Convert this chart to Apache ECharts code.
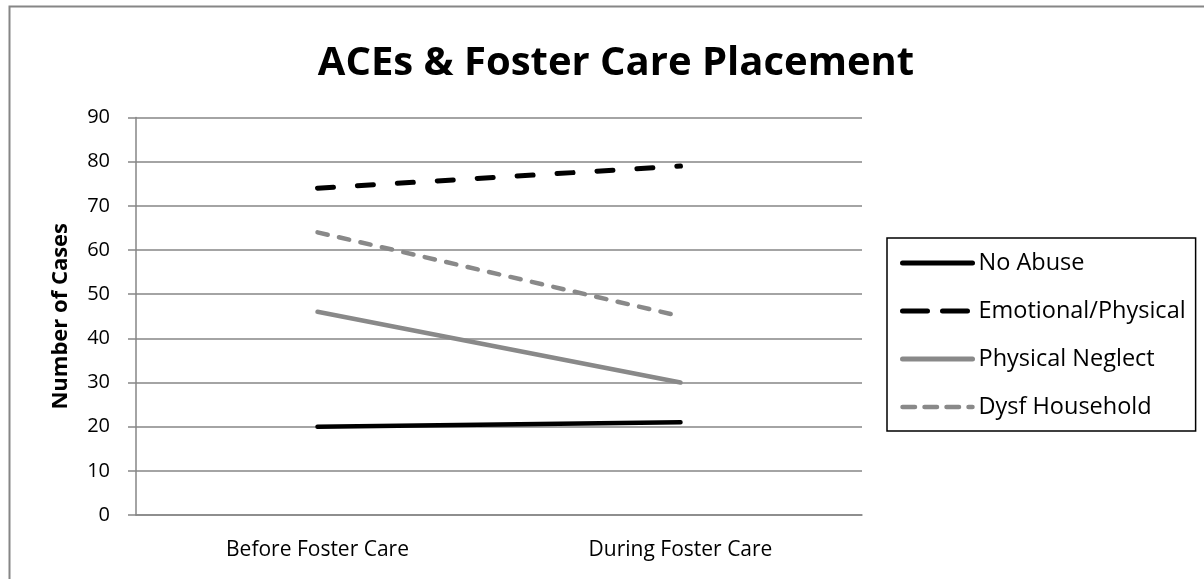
<!DOCTYPE html>
<html><head><meta charset="utf-8">
<script src="https://cdn.jsdelivr.net/npm/echarts@6/dist/echarts.min.js"></script>
<style>html,body{margin:0;padding:0;background:#fff}#c{width:1204px;height:579px}</style>
</head><body><div id="c"></div>
<script>
const titleText = 'ACEs & Foster Care Placement';
const categories = ['Before Foster Care', 'During Foster Care'];
const seriesNames = ['No Abuse', 'Emotional/Physical', 'Physical Neglect', 'Dysf Household'];
const noAbuse = [20, 21];
const emotionalPhysical = [74, 79];
const physicalNeglect = [46, 30];
const dysfHousehold = [64, 45];
const yTicks = [0, 10, 20, 30, 40, 50, 60, 70, 80, 90];

const FONT = 'Open Sans';
const GRAY = '#868686';
const chart = echarts.init(document.getElementById('c'), null, {renderer: 'canvas'});
chart.setOption({
  animation: false,
  backgroundColor: '#fff',
  title: {
    text: titleText, left: 611, top: 39, textAlign: 'center',
    textStyle: {fontFamily: FONT, fontWeight: 'bold', fontSize: 40, color: '#000'}
  },
  graphic: [{
    type: 'rect', shape: {x: 9.5, y: 6.5, width: 1220, height: 620},
    style: {fill: 'none', stroke: GRAY, lineWidth: 2}, silent: true, z: -1
  }],
  legend: {
    orient: 'vertical', left: 887, top: 238,
    borderColor: '#000', borderWidth: 1.5,
    padding: [13, 10, 12, 13], itemGap: 24,
    itemWidth: 70, itemHeight: 14,
    itemStyle: {opacity: 0},
    lineStyle: {width: 5, cap: 'round'},
    textStyle: {fontFamily: FONT, fontSize: 23.5, color: '#000', lineHeight: 24, padding: [0, 0, 0, 1]},
    data: [
      {name: seriesNames[0], lineStyle: {width: 5, cap: 'round', type: 'solid'}},
      {name: seriesNames[1], lineStyle: {width: 5, cap: 'round', type: [25, 15]}},
      {name: seriesNames[2], lineStyle: {width: 5, cap: 'round', type: 'solid'}},
      {name: seriesNames[3], lineStyle: {width: 4.5, cap: 'round', type: [12.5, 9.5]}}
    ]
  },
  grid: {left: 136, right: 342, top: 117.5, bottom: 64},
  xAxis: {
    type: 'category', data: categories, boundaryGap: true,
    axisLine: {lineStyle: {color: GRAY, width: 1.5}},
    axisTick: {length: 8, lineStyle: {color: GRAY, width: 1.5}},
    axisLabel: {fontFamily: FONT, fontSize: 21, color: '#000', margin: 25}
  },
  yAxis: {
    type: 'value', min: yTicks[0], max: yTicks[yTicks.length - 1], interval: 10,
    name: 'Number of Cases', nameLocation: 'middle', nameGap: 64, nameRotate: 90,
    nameTextStyle: {fontFamily: FONT, fontWeight: 'bold', fontSize: 22, color: '#000'},
    axisLine: {show: true, lineStyle: {color: GRAY, width: 1.5}},
    axisTick: {show: true, length: 8, lineStyle: {color: GRAY, width: 1.5}},
    axisLabel: {fontFamily: FONT, fontSize: 20, color: '#000', margin: 26},
    splitLine: {lineStyle: {color: GRAY, width: 1.5}}
  },
  series: [
    {name: seriesNames[0], type: 'line', data: noAbuse, symbol: 'none', color: '#000',
     lineStyle: {color: '#000', width: 4.5, cap: 'round'}},
    {name: seriesNames[1], type: 'line', data: emotionalPhysical, symbol: 'none', color: '#000',
     lineStyle: {color: '#000', width: 5, type: [16, 24], cap: 'round'}},
    {name: seriesNames[2], type: 'line', data: physicalNeglect, symbol: 'none', color: '#898989',
     lineStyle: {color: '#898989', width: 4.5, cap: 'round'}},
    {name: seriesNames[3], type: 'line', data: dysfHousehold, symbol: 'none', color: '#898989',
     lineStyle: {color: '#898989', width: 4.5, type: [10.5, 11.5], cap: 'round'}}
  ]
});
</script></body></html>
